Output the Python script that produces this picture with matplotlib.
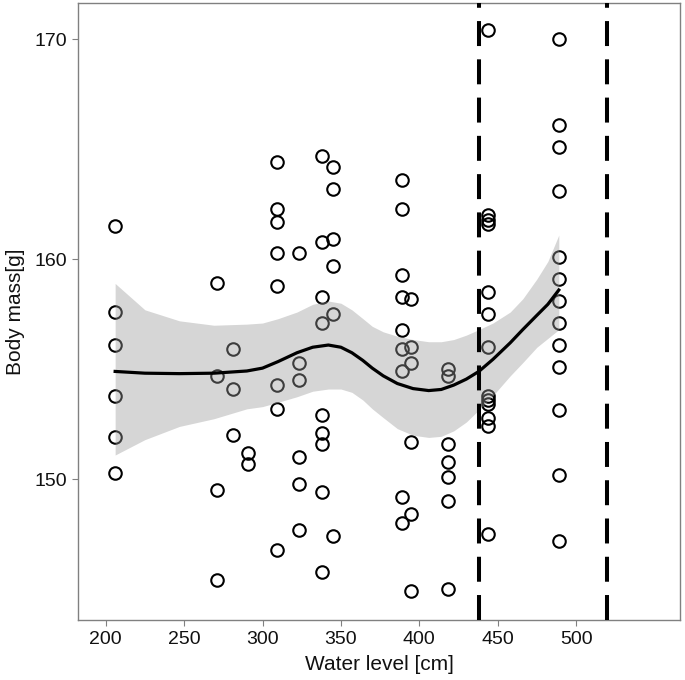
import matplotlib
matplotlib.use("Agg")
import matplotlib.pyplot as plt

plt.rcParams["font.family"] = ["Liberation Sans", "DejaVu Sans"]

# raw observations
water_level = (
    [206] * 6 + [271] * 4 + [281] * 3 + [291] * 2 + [309] * 8 + [323] * 6
    + [338] * 9 + [345] * 6 + [389] * 9 + [395] * 6 + [418.5] * 7
    + [444] * 13 + [489] * 13
)
body_mass = [
    161.5, 157.6, 156.1, 153.8, 151.9, 150.3,
    158.9, 154.7, 149.5, 145.4,
    155.9, 154.1, 152.0,
    151.2, 150.7,
    164.4, 162.3, 161.7, 160.3, 158.8, 154.3, 153.2, 146.8,
    160.3, 155.3, 154.5, 151.0, 149.8, 147.7,
    164.7, 160.8, 158.3, 157.1, 152.9, 152.1, 151.6, 149.4, 145.8,
    164.2, 163.2, 160.9, 159.7, 157.5, 147.4,
    163.6, 162.3, 159.3, 158.3, 156.8, 155.9, 154.9, 149.2, 148.0,
    158.2, 156.0, 155.3, 151.7, 148.4, 144.9,
    155.0, 154.7, 151.6, 150.8, 150.1, 149.0, 145.0,
    170.4, 162.0, 161.8, 161.6, 158.5, 157.5, 156.0, 153.8, 153.6, 153.4, 152.8, 152.4, 147.5,
    170.0, 166.1, 165.1, 163.1, 160.1, 159.1, 158.1, 157.1, 156.1, 155.1, 153.15, 150.2, 147.2,
]

# smoother
smooth_x = [206, 225, 247, 269, 290, 300, 310, 322, 332, 342, 350, 357, 364, 370,
            377, 386, 396, 406, 414, 422, 430, 438, 447, 458, 466, 475, 482, 489]
smooth_y = [154.9, 154.82, 154.8, 154.82, 154.92, 155.05, 155.35, 155.75, 156.0,
            156.1, 156.0, 155.75, 155.4, 155.05, 154.7, 154.35, 154.12, 154.03,
            154.08, 154.28, 154.55, 154.9, 155.45, 156.2, 156.8, 157.45, 157.95, 158.6]
band_hi = [158.9, 157.7, 157.2, 157.0, 157.05, 157.1, 157.3, 157.6, 157.95, 158.1,
           158.0, 157.7, 157.3, 156.95, 156.7, 156.5, 156.35, 156.25, 156.25, 156.35,
           156.55, 156.8, 157.1, 157.6, 158.2, 159.1, 159.9, 161.1]
band_lo = [151.1, 151.8, 152.4, 152.75, 153.2, 153.3, 153.5, 153.75, 154.0, 154.1,
           154.1, 153.95, 153.6, 153.2, 152.8, 152.3, 152.0, 151.9, 151.95, 152.2,
           152.6, 153.15, 153.8, 154.7, 155.3, 156.0, 156.4, 156.8]

cutoffs = [438, 520]
x_ticks = [200, 250, 300, 350, 400, 450, 500]
y_ticks = [150, 160, 170]


def main():
    fig = plt.figure(figsize=(6.85, 6.8), dpi=100)
    ax = fig.add_axes([0.1143, 0.0882, 0.8784, 0.9078])

    ax.plot(water_level, body_mass, linestyle="none", marker="o", markersize=9,
            markerfacecolor="none", markeredgecolor="black", markeredgewidth=1.5, zorder=2)
    ax.fill_between(smooth_x, band_lo, band_hi, color="#999999", alpha=0.4,
                    linewidth=0, zorder=3)
    ax.plot(smooth_x, smooth_y, color="black", linewidth=2.3, zorder=4,
            solid_joinstyle="round")

    for c in cutoffs:
        ax.axvline(c, color="black", linewidth=2.9, dashes=(6.2, 3.3), zorder=5)

    ax.set_xlim(182.5, 566.3)
    ax.set_ylim(143.6, 171.66)
    ax.set_xticks(x_ticks)
    ax.set_yticks(y_ticks)
    ax.tick_params(axis="both", direction="out", length=4, width=0.8, color="#808080",
                   labelsize=14, labelcolor="#111111", pad=4)
    for s in ax.spines.values():
        s.set_color("#808080")
        s.set_linewidth(1.0)

    ax.set_xlabel("Water level [cm]", fontsize=15, color="#111111", labelpad=5)
    ax.set_ylabel("Body mass[g]", fontsize=15, color="#111111", labelpad=7)

    fig.savefig("out.png", dpi=100)


if __name__ == "__main__":
    main()
